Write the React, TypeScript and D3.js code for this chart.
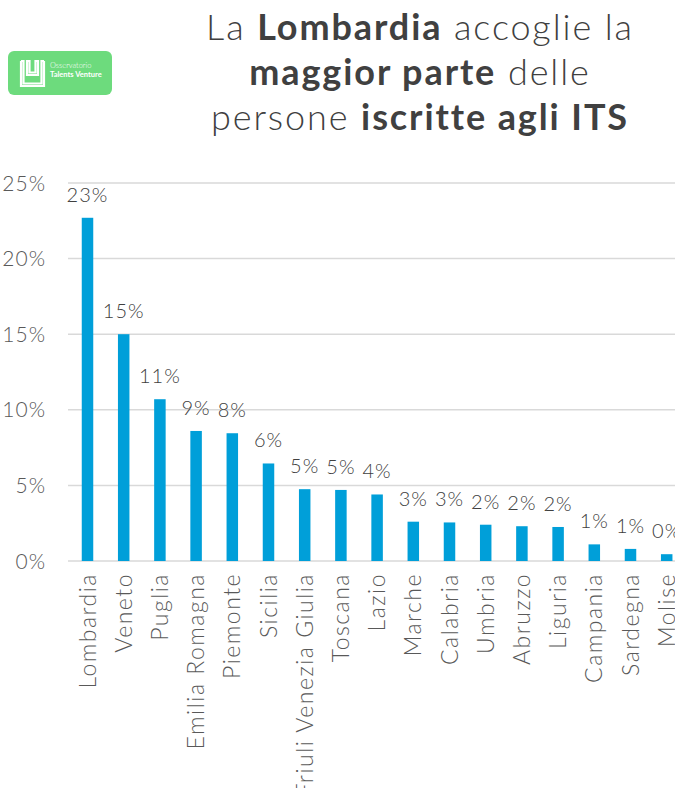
import React from "react";
import * as d3 from "d3";

const categories = ["Lombardia","Veneto","Puglia","Emilia Romagna","Piemonte","Sicilia","Friuli Venezia Giulia","Toscana","Lazio","Marche","Calabria","Umbria","Abruzzo","Liguria","Campania","Sardegna","Molise"];
const values = [22.7,15.0,10.7,8.6,8.45,6.45,4.75,4.7,4.4,2.6,2.55,2.4,2.3,2.25,1.1,0.8,0.45];
const yTicks = [0,5,10,15,20,25];

const W = 675, H = 788;
const FONT = "Lato, 'Open Sans', sans-serif";

export default function App() {
  const x = d3.scaleBand<string>().domain(categories).range([69.4, 69.4 + 36.2 * categories.length]).paddingInner(0.68).paddingOuter(0.34);
  const y = d3.scaleLinear().domain([0, 25]).range([561, 183]);
  const bw = 11.5;
  return (
    <svg width={W} height={H} style={{ position: "absolute", left: 0, top: 0, background: "#fff" }}>
      {/* logo */}
      <g>
        <rect x={8} y={51} width={104} height={44} rx={6} fill="#6ddb7d" />
        <path d="M21 61 V86 H44 V61 M21 61 h2.5 v22.5 h18 V61 h2.5 M27 61 v14 h11 v-14 h-2.5 v11.5 h-6 v-11.5 z" fill="none" stroke="#fff" strokeWidth={2.2} strokeLinejoin="miter" />
        <text x={50} y={68} fill="#fff" fontSize={7.5} fontFamily={FONT} fontWeight={300}>Osservatorio</text>
        <text x={50} y={77} fill="#fff" fontSize={7.5} fontFamily={FONT} fontWeight={700}>Talents Venture</text>
      </g>
      {/* title */}
      <g fontFamily={FONT} fontSize={36} fill="#404040" textAnchor="middle" letterSpacing={1.9}>
        <text x={420} y={40}><tspan fontWeight={300}>La </tspan><tspan fontWeight={700}>Lombardia</tspan><tspan fontWeight={300}> accoglie la</tspan></text>
        <text x={420} y={85}><tspan fontWeight={700}>maggior parte</tspan><tspan fontWeight={300}> delle</tspan></text>
        <text x={420} y={130}><tspan fontWeight={300}>persone </tspan><tspan fontWeight={700}>iscritte agli ITS</tspan></text>
      </g>
      {/* grid */}
      {yTicks.map(t => (
        <g key={t}>
          <line x1={68} x2={W} y1={y(t)} y2={y(t)} stroke="#d9d9d9" strokeWidth={1.5} />
          <text x={46} y={y(t)} dy="0.36em" textAnchor="end" fontFamily={FONT} fontWeight={300} fontSize={21} letterSpacing={1} fill="#595959">{t}%</text>
        </g>
      ))}
      {/* bars */}
      {categories.map((c, i) => {
        const cx = (x(c) as number) + x.bandwidth() / 2;
        return (
          <g key={c}>
            <rect x={cx - bw / 2} y={y(values[i])} width={bw} height={y(0) - y(values[i])} fill="#009fd9" />
            <text x={cx} y={y(values[i]) - 16} textAnchor="middle" fontFamily={FONT} fontWeight={300} fontSize={20} letterSpacing={1} fill="#404040">{Math.round(values[i])}%</text>
            <text transform={`translate(${cx},573) rotate(-90)`} textAnchor="end" dy="0.35em" fontFamily={FONT} fontWeight={300} fontSize={23} letterSpacing={1.5} fill="#595959">{c}</text>
          </g>
        );
      })}
    </svg>
  );
}
